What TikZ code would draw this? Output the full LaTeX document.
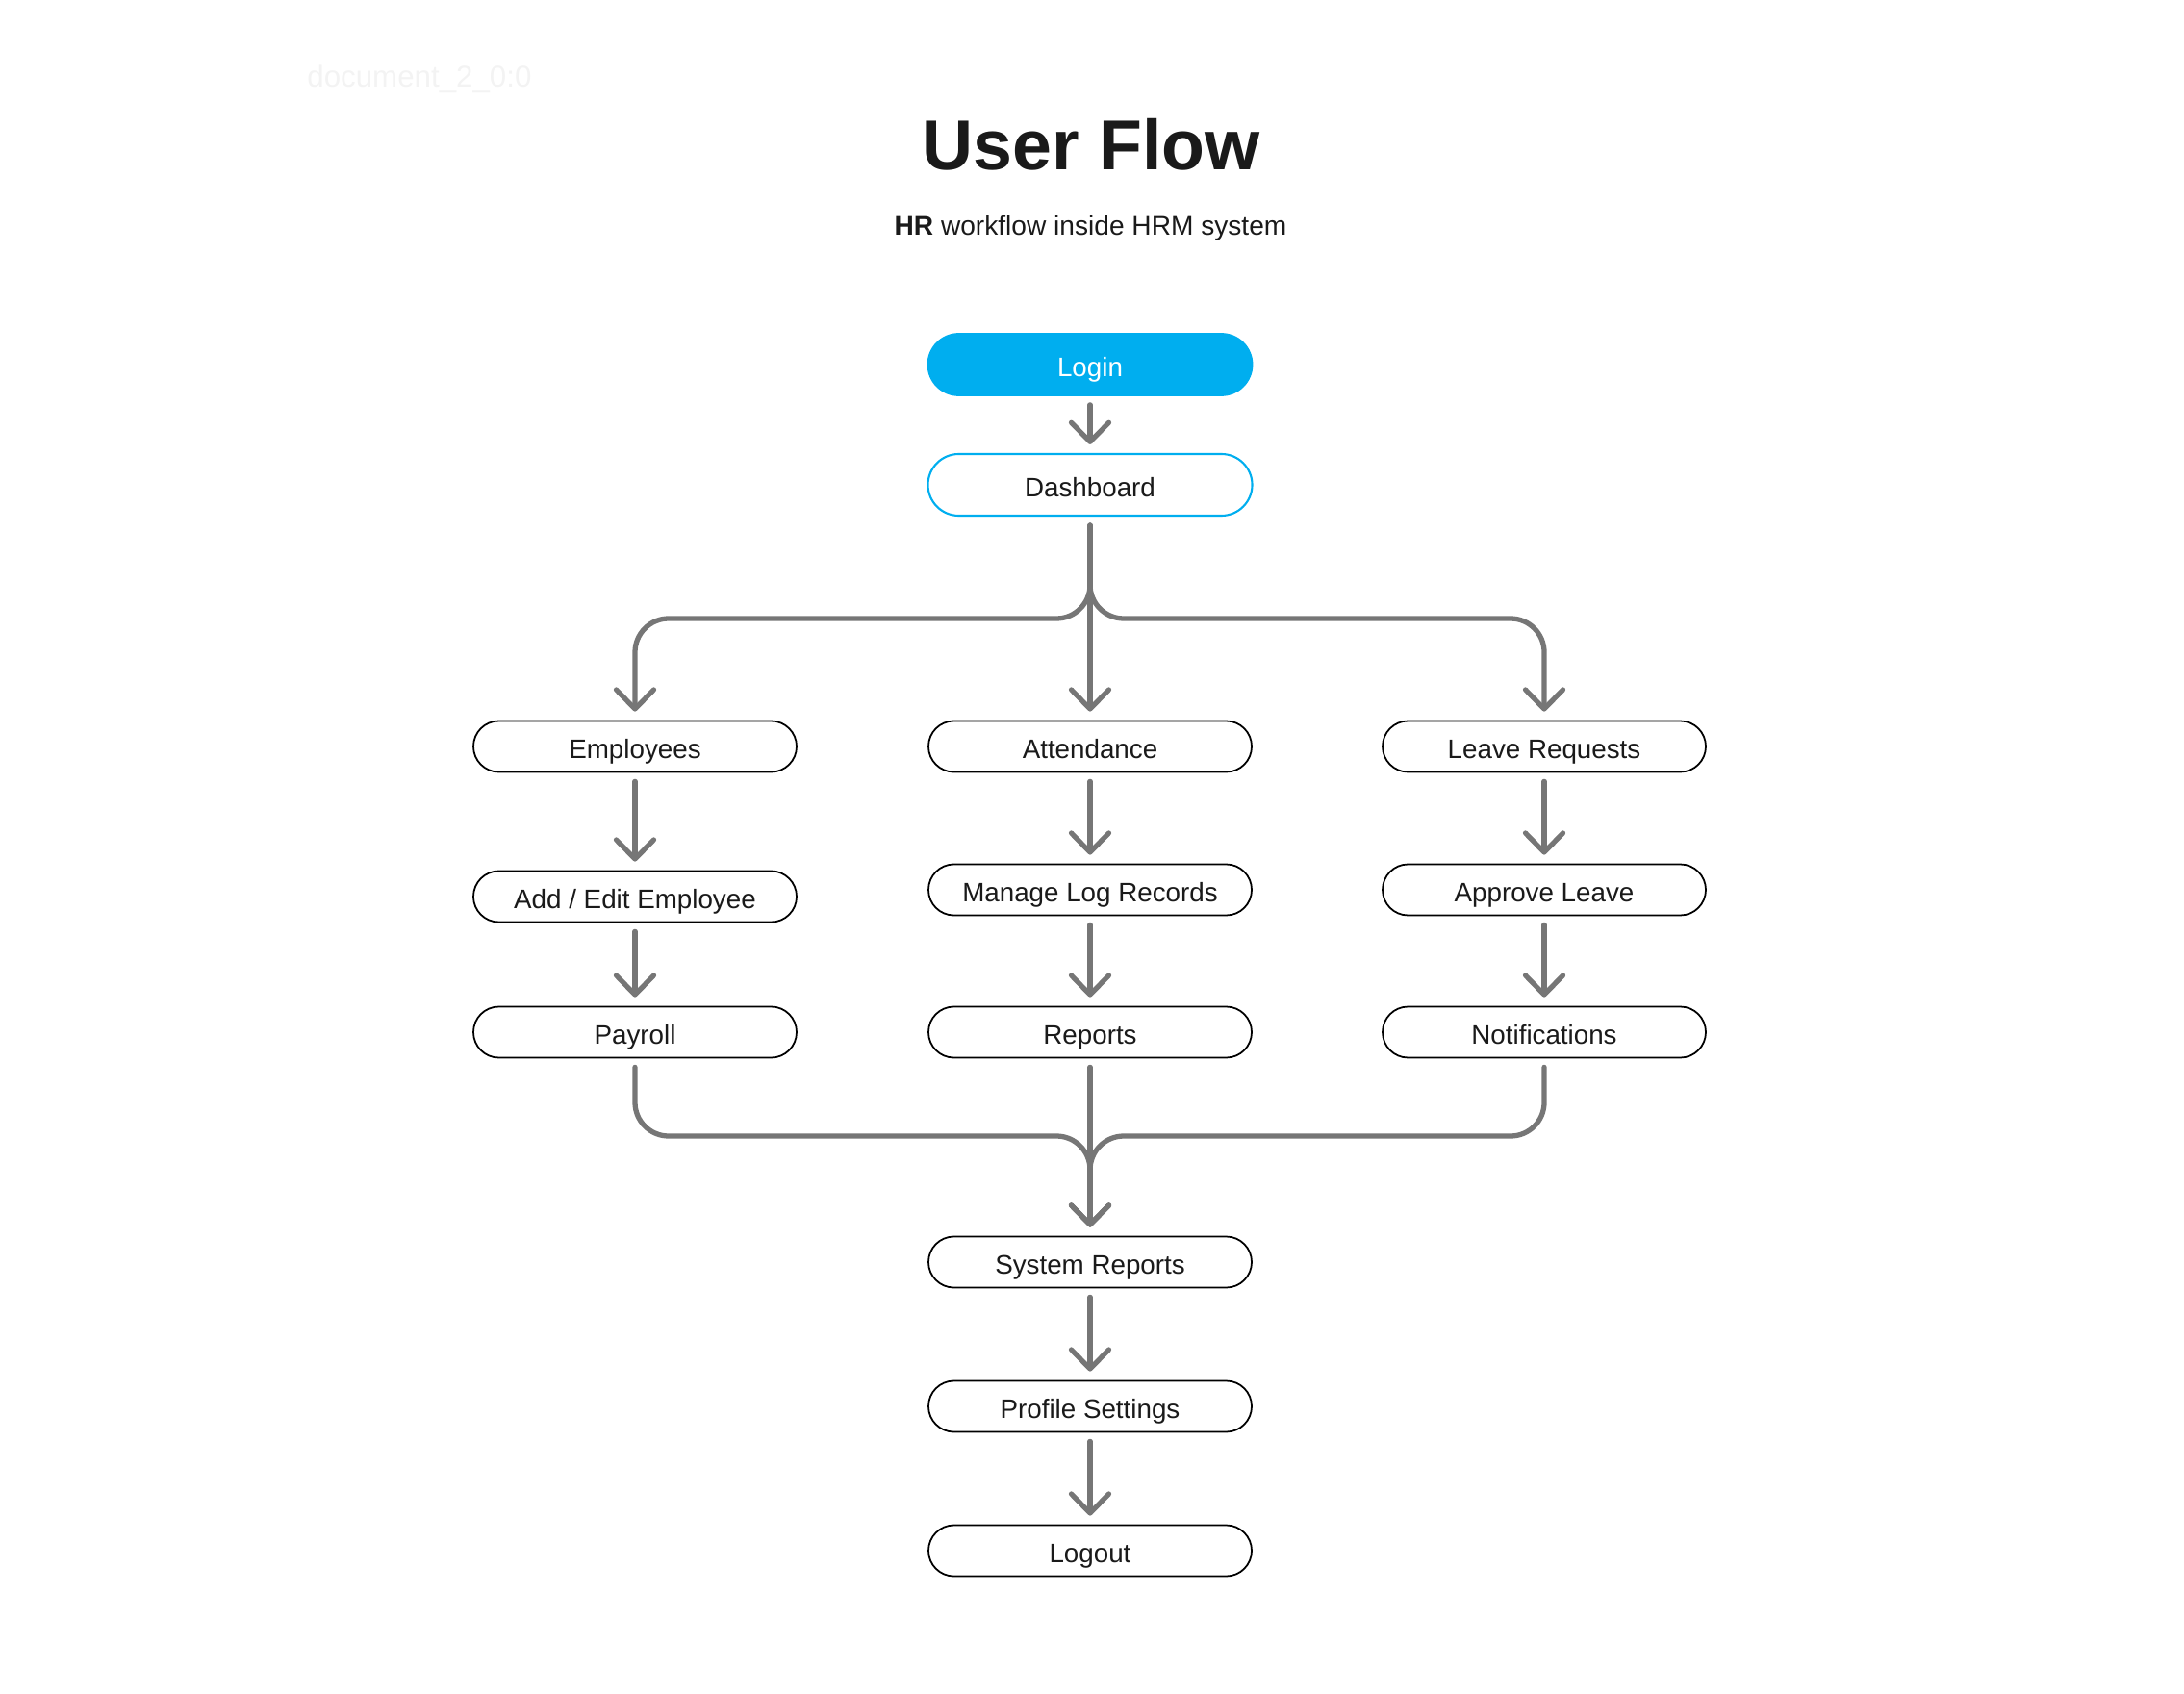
\documentclass[tikz,border=0pt]{standalone}
\usepackage{fontspec}
\setmainfont{Liberation Sans}
\usepackage{tikz}
\usetikzlibrary{arrows.meta}
\definecolor{loginblue}{RGB}{0,174,239}
\definecolor{flowgray}{RGB}{118,118,118}
\definecolor{textdark}{RGB}{26,26,26}
\definecolor{ghostgray}{RGB}{243,243,243}

\begin{document}
\begin{tikzpicture}[
    box/.style={draw=black, line width=0.5pt, fill=white, rounded corners=2.65mm,
      minimum width=3.36cm, minimum height=5.3mm, inner sep=0pt, text=textdark,
      text height=0.716em, text depth=0pt,
      font=\fontsize{7.9}{9.5}\selectfont},
    loginbox/.style={box, draw=loginblue, fill=loginblue, text=white,
      minimum width=3.37cm, minimum height=6.4mm, rounded corners=3.2mm},
    dashbox/.style={box, draw=loginblue, line width=0.6pt,
      minimum width=3.37cm, minimum height=6.4mm, rounded corners=3.2mm},
    flow/.style={draw=flowgray, line width=1.5pt, line cap=round,
      -{Straight Barb[length=2mm,width=3.9mm,round]},
      shorten <=0.9mm, shorten >=0.9mm},
  ]
  \useasboundingbox (0,0) rectangle (22.7,17.6);
  % header
  \node[font=\fontsize{8.9}{11}\selectfont, text=ghostgray, anchor=base west] (docid) at (3.07,16.69) {document\_2\_0:0};
  \node[font=\fontsize{20.9}{25}\selectfont\bfseries, text=textdark, anchor=base] (title) at (11.34,15.83) {User Flow};
  \node[font=\fontsize{8}{10}\selectfont, text=textdark, anchor=base] (subtitle) at (11.335,15.15) {\textbf{HR} workflow inside HRM system};
  % top
  \node[loginbox] (login) at (11.33,13.81) {Login};
  \node[dashbox] (dash) at (11.33,12.56) {Dashboard};
  % three columns
  \node[box] (emp) at (6.60,9.84) {Employees};
  \node[box] (att) at (11.33,9.84) {Attendance};
  \node[box] (leave) at (16.05,9.84) {Leave Requests};
  \node[box] (addemp) at (6.60,8.28) {Add / Edit Employee};
  \node[box] (logrec) at (11.33,8.35) {Manage Log Records};
  \node[box] (approve) at (16.05,8.35) {Approve Leave};
  \node[box] (payroll) at (6.60,6.87) {Payroll};
  \node[box] (reports) at (11.33,6.87) {Reports};
  \node[box] (notif) at (16.05,6.87) {Notifications};
  % bottom
  \node[box] (sysrep) at (11.33,4.48) {System Reports};
  \node[box] (profile) at (11.33,2.98) {Profile Settings};
  \node[box] (logout) at (11.33,1.48) {Logout};
  % branch points
  \coordinate (split) at (11.33,11.17);
  \coordinate (join) at (11.33,5.79);
  % arrows
  \draw[flow] (login) -- (dash);
  \draw[flow, rounded corners=3.5mm] (dash) -- (split) -| (emp);
  \draw[flow] (dash) -- (att);
  \draw[flow, rounded corners=3.5mm] (dash) -- (split) -| (leave);
  \draw[flow] (emp) -- (addemp);
  \draw[flow] (addemp) -- (payroll);
  \draw[flow] (att) -- (logrec);
  \draw[flow] (logrec) -- (reports);
  \draw[flow] (leave) -- (approve);
  \draw[flow] (approve) -- (notif);
  \draw[flow, rounded corners=3.5mm] (payroll) |- (join) -- (sysrep);
  \draw[flow] (reports) -- (sysrep);
  \draw[flow, rounded corners=3.5mm] (notif) |- (join) -- (sysrep);
  \draw[flow] (sysrep) -- (profile);
  \draw[flow] (profile) -- (logout);
\end{tikzpicture}
\end{document}
